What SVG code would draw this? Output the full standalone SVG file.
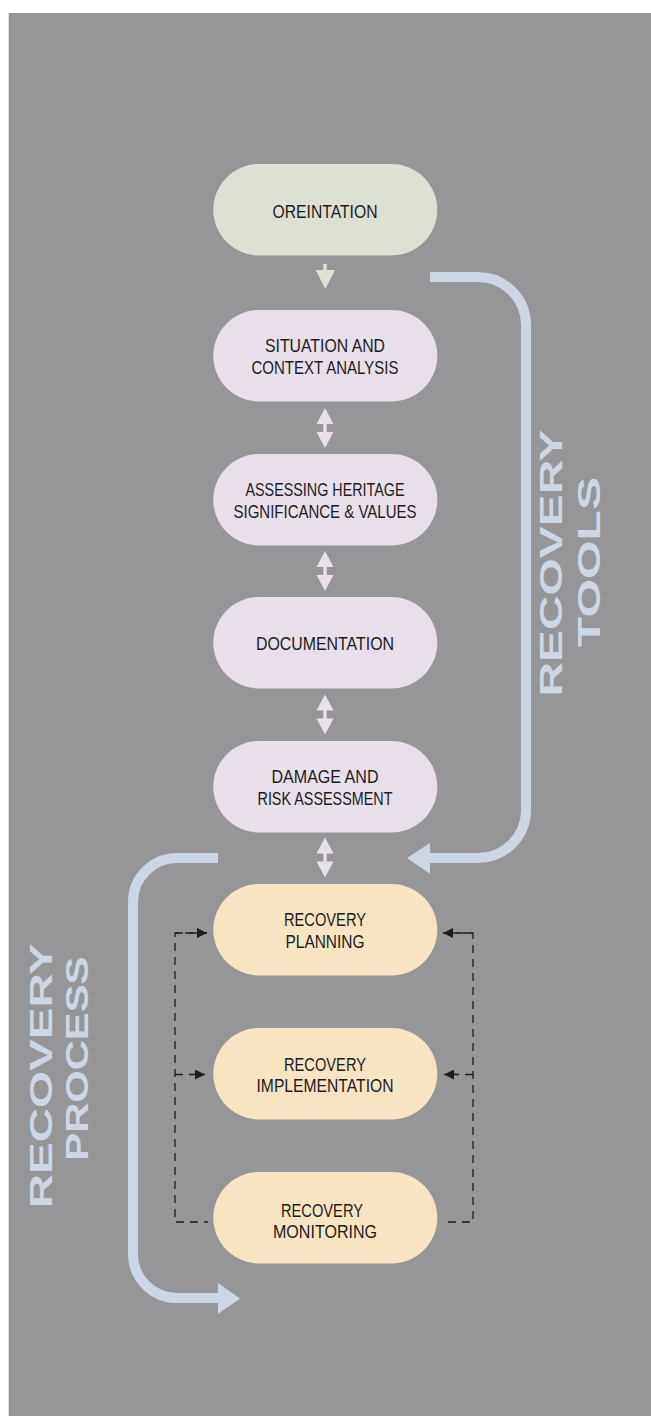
<svg xmlns="http://www.w3.org/2000/svg" width="651" height="1416" viewBox="0 0 651 1416">
<style>
.bg{fill:#969698}
.green{fill:#dce1d4}
.purple{fill:#e8dfea}
.yellow{fill:#f6e4c2}
.lbl{font-family:"Liberation Sans",Arial,sans-serif;font-size:18.5px;fill:#1c1c1c;text-anchor:middle}
.big{font-family:"Liberation Sans",Arial,sans-serif;font-weight:bold;font-size:31px;fill:#cdd6e4;text-anchor:middle}
.flow{fill:none;stroke:#cdd6e4;stroke-width:10}
.dash{fill:none;stroke:#1e1e1e;stroke-width:1.3;stroke-dasharray:8 6}
</style>
<defs>
<marker id="ah" viewBox="0 0 10 10" refX="10" refY="5" markerWidth="10" markerHeight="10" markerUnits="userSpaceOnUse" orient="auto">
<path d="M0,0 L10,5 L0,10 Z" fill="#1e1e1e"/>
</marker>
<g id="dbl">
<path d="M0,-20 L8.5,-4 L-8.5,-4 Z M-1.7,-4 H1.7 V4 H-1.7 Z M0,20 L8.5,4 L-8.5,4 Z"/>
</g>
</defs>
<rect class="bg" x="8.7" y="13" width="642.3" height="1403"/>

<g id="connectors">
<path class="flow" d="M430,277 H478 A48,48 0 0 1 526,325 V810 A48,48 0 0 1 478,858 H428"/>
<polygon points="407,858 430,843 430,874" fill="#cdd6e4"/>
<path class="flow" d="M218,858 H177 A44,44 0 0 0 133,902 V1254 A44,44 0 0 0 177,1298 H220"/>
<polygon points="240,1298.5 218,1283 218,1314" fill="#cdd6e4"/>
<path class="green" d="M323.3,264 H326.7 V271 H323.3 Z M315.7,270 H335 L325.3,289 Z"/>
<use href="#dbl" x="325" y="428" class="purple"/>
<use href="#dbl" x="325" y="571" class="purple"/>
<use href="#dbl" x="325" y="714.5" class="purple"/>
<use href="#dbl" x="325" y="857.5" class="purple"/>
<path class="dash" d="M207,933 H175 V1222 H208"/>
<path class="dash" d="M443,933 H473 V1222 H444"/>
<path class="dash" d="M175,933 H207" stroke-dasharray="8 7 20" marker-end="url(#ah)"/>
<path class="dash" d="M175,1074.5 H205" stroke-dasharray="0 6 30" marker-end="url(#ah)"/>
<path class="dash" d="M473,933 H443" stroke-dasharray="8 7 20" marker-end="url(#ah)"/>
<path class="dash" d="M473,1074.5 H444" stroke-dasharray="0 6 30" marker-end="url(#ah)"/>
</g>

<g id="n-orientation">
<rect class="green" x="213.3" y="164" width="224" height="91.5" rx="45.75"/>
<text class="lbl" x="325" y="218" font-size="20" textLength="105" lengthAdjust="spacingAndGlyphs">OREINTATION</text>
</g>
<g id="n-situation">
<rect class="purple" x="213.3" y="310" width="224" height="91.5" rx="45.75"/>
<text class="lbl" x="325" y="352" textLength="120" lengthAdjust="spacingAndGlyphs">SITUATION AND</text>
<text class="lbl" x="325" y="373.5" textLength="147" lengthAdjust="spacingAndGlyphs">CONTEXT ANALYSIS</text>
</g>
<g id="n-assessing">
<rect class="purple" x="213.3" y="454" width="224" height="91.5" rx="45.75"/>
<text class="lbl" x="325" y="496" textLength="159" lengthAdjust="spacingAndGlyphs">ASSESSING HERITAGE</text>
<text class="lbl" x="325" y="517.5" textLength="183" lengthAdjust="spacingAndGlyphs">SIGNIFICANCE &amp; VALUES</text>
</g>
<g id="n-documentation">
<rect class="purple" x="213.3" y="597" width="224" height="91.5" rx="45.75"/>
<text class="lbl" x="325" y="649.5" textLength="138" lengthAdjust="spacingAndGlyphs">DOCUMENTATION</text>
</g>
<g id="n-damage">
<rect class="purple" x="213.3" y="741" width="224" height="91.5" rx="45.75"/>
<text class="lbl" x="325" y="783" textLength="107" lengthAdjust="spacingAndGlyphs">DAMAGE AND</text>
<text class="lbl" x="325" y="804.5" textLength="135" lengthAdjust="spacingAndGlyphs">RISK ASSESSMENT</text>
</g>
<g id="n-planning">
<rect class="yellow" x="213.3" y="884" width="224" height="91.5" rx="45.75"/>
<text class="lbl" x="325" y="926" textLength="82" lengthAdjust="spacingAndGlyphs">RECOVERY</text>
<text class="lbl" x="325" y="947.5" textLength="79" lengthAdjust="spacingAndGlyphs">PLANNING</text>
</g>
<g id="n-implementation">
<rect class="yellow" x="213.3" y="1028" width="224" height="91.5" rx="45.75"/>
<text class="lbl" x="325" y="1070.5" textLength="82" lengthAdjust="spacingAndGlyphs">RECOVERY</text>
<text class="lbl" x="325" y="1092" textLength="137" lengthAdjust="spacingAndGlyphs">IMPLEMENTATION</text>
</g>
<g id="n-monitoring">
<rect class="yellow" x="213.3" y="1172" width="224" height="91.5" rx="45.75"/>
<text class="lbl" x="322" y="1216.7" textLength="82" lengthAdjust="spacingAndGlyphs">RECOVERY</text>
<text class="lbl" x="325" y="1238.3" textLength="104" lengthAdjust="spacingAndGlyphs">MONITORING</text>
</g>

<g id="label-tools">
<text class="big" transform="translate(561.7,563) rotate(-90)" textLength="267" lengthAdjust="spacingAndGlyphs">RECOVERY</text>
<text class="big" transform="translate(600,562) rotate(-90)" textLength="170" lengthAdjust="spacingAndGlyphs">TOOLS</text>
</g>
<g id="label-process">
<text class="big" transform="translate(51.7,1075.8) rotate(-90)" textLength="265" lengthAdjust="spacingAndGlyphs">RECOVERY</text>
<text class="big" transform="translate(88.3,1058.7) rotate(-90)" textLength="204" lengthAdjust="spacingAndGlyphs">PROCESS</text>
</g>
</svg>
